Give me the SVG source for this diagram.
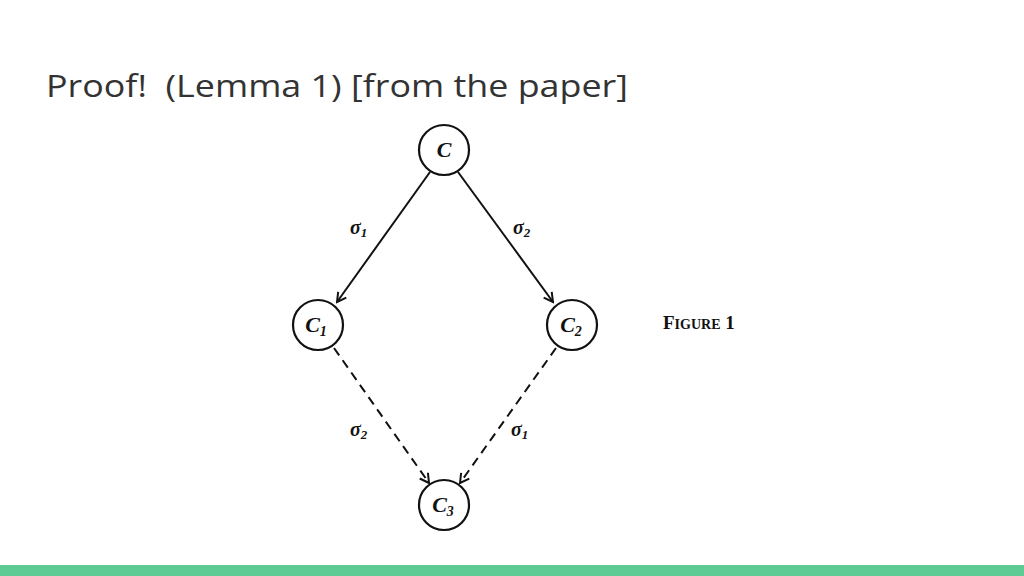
<svg xmlns="http://www.w3.org/2000/svg" width="1024" height="576" viewBox="0 0 1024 576">
<style>
.n{fill:#fff;stroke:#111;stroke-width:2.2}
.t{font-family:"Liberation Serif",serif;font-style:italic;font-weight:bold;fill:#111}
.e{stroke:#111;stroke-width:2;fill:none}
.d{stroke-dasharray:9,6}
</style>
<defs><marker id="a" markerWidth="12" markerHeight="12" refX="10" refY="6" orient="auto" markerUnits="userSpaceOnUse"><path d="M1,1 L10,6 L1,11" fill="none" stroke="#111" stroke-width="2"/></marker></defs>
<rect width="1024" height="576" fill="#fff"/>
<text x="46" y="97" font-family="'Open Sans',sans-serif" font-size="31" fill="#333" xml:space="preserve" textLength="582" lengthAdjust="spacingAndGlyphs">Proof!  (Lemma 1) [from the paper]</text>
<g id="edges">
<line class="e" x1="430" y1="172" x2="337" y2="302" marker-end="url(#a)"/>
<line class="e" x1="458" y1="172" x2="553" y2="302" marker-end="url(#a)"/>
<line class="e d" x1="334" y1="348" x2="429" y2="483" marker-end="url(#a)"/>
<line class="e d" x1="556" y1="348" x2="460" y2="483" marker-end="url(#a)"/>
<text class="t" x="350" y="234" font-size="20">σ<tspan font-size="13" dy="3">1</tspan></text>
<text class="t" x="513" y="234" font-size="20">σ<tspan font-size="13" dy="3">2</tspan></text>
<text class="t" x="350" y="436" font-size="20">σ<tspan font-size="13" dy="3">2</tspan></text>
<text class="t" x="511" y="436" font-size="20">σ<tspan font-size="13" dy="3">1</tspan></text>
</g>
<g id="C"><circle class="n" cx="444" cy="150" r="25"/><text class="t" x="444" y="157" font-size="22" text-anchor="middle">C</text></g>
<g id="C1"><circle class="n" cx="318" cy="325" r="25"/><text class="t" x="316" y="332" font-size="22" text-anchor="middle">C<tspan font-size="14" dy="4">1</tspan></text></g>
<g id="C2"><circle class="n" cx="572" cy="325" r="25"/><text class="t" x="571" y="332" font-size="22" text-anchor="middle">C<tspan font-size="14" dy="4">2</tspan></text></g>
<g id="C3"><circle class="n" cx="444" cy="505" r="25"/><text class="t" x="443" y="512" font-size="22" text-anchor="middle">C<tspan font-size="14" dy="4">3</tspan></text></g>
<text x="663" y="329" font-family="Liberation Serif,serif" font-size="19" font-weight="bold" fill="#111">F<tspan font-size="14">IGURE</tspan> 1</text>
<rect x="0" y="565" width="1024" height="11" fill="#5ecb94"/>
</svg>
